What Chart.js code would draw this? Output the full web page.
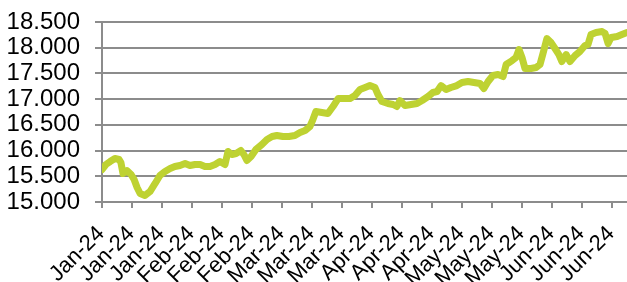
<!DOCTYPE html>
<html>
<head>
<meta charset="utf-8">
<script src="https://cdn.jsdelivr.net/npm/chart.js@4"></script>
<style>
  html, body { margin: 0; padding: 0; background: #fff; }
  #wrap { width: 627px; height: 282px; position: relative; overflow: hidden; }
</style>
</head>
<body>
<div id="wrap"><canvas id="c"></canvas></div>
<script>
// Days since 2 Jan 2024
const dayOffsets = [0,1.3,2.7,4.3,5.7,6.3,7,8.3,9.7,10.7,11.7,12.7,14.3,16,17.7,19.3,21,22.7,24.3,26,27.7,29.3,31,32.7,34.3,36,37.7,39.3,41,42,43.3,44.7,46.3,47.3,48.3,49.7,51.3,53.3,55,56.7,58.3,60.3,62.3,64.3,66,67.7,69.3,70.3,71.3,73.3,75.3,77,78.7,80.7,82.7,84.3,86,87.7,89.3,91,92,93.3,95.3,97,98.3,99.3,101,103,105,106.7,108.7,110.3,111.7,113,114.7,116.3,118.3,120,122,124,126,127.3,128.7,130.3,132,133.7,134.7,136.7,138,139,140,141,143,144.7,146,147,148.3,149.7,151,152.3,153.3,154.7,156,157.7,159.3,161,162,163,164.7,166.7,167.7,168.7,169.7,171.7,173.3,175];
const values = [15632,15729,15787,15846,15826,15768,15554,15612,15535,15437,15282,15165,15126,15204,15360,15515,15593,15651,15690,15710,15748,15710,15729,15729,15690,15690,15729,15787,15729,15982,15923,15943,16001,15923,15807,15885,16021,16118,16215,16273,16293,16273,16273,16293,16351,16390,16468,16604,16759,16740,16720,16856,17012,17012,17012,17070,17187,17226,17264,17226,17090,16954,16915,16896,16857,16973,16876,16896,16915,16973,17051,17129,17148,17264,17187,17226,17264,17323,17342,17323,17304,17206,17342,17459,17478,17440,17673,17750,17809,17964,17809,17595,17595,17615,17673,17887,18178,18100,17984,17867,17731,17867,17731,17848,17926,18042,18062,18256,18295,18314,18276,18081,18198,18217,18256,18295];
const tickDays = [0,10,20,30,40,50,60,70,80,90,100,110,120,130,140,150,160,170];
const tickLabels = ['Jan-24','Jan-24','Jan-24','Feb-24','Feb-24','Feb-24','Mar-24','Mar-24','Mar-24','Apr-24','Apr-24','Apr-24','May-24','May-24','May-24','Jun-24','Jun-24','Jun-24'];
const yTicks = [15000,15500,16000,16500,17000,17500,18000,18500];

const gridColor = '#8c8c8c';
const fontFamily = '"Liberation Sans", Arial, sans-serif';

new Chart(document.getElementById('c'), {
  type: 'line',
  data: {
    datasets: [{
      data: dayOffsets.map((d, i) => ({ x: d, y: values[i] })),
      borderColor: '#bed232',
      borderWidth: 7,
      pointRadius: 0,
      tension: 0,
      borderJoinStyle: 'round',
      borderCapStyle: 'round',
      fill: false
    }]
  },
  options: {
    responsive: true,
    maintainAspectRatio: false,
    animation: false,
    layout: { padding: { top: 22, right: 0, left: 0, bottom: 0 } },
    plugins: { legend: { display: false }, tooltip: { enabled: false } },
    scales: {
      x: {
        type: 'linear',
        min: 0,
        max: 175,
        afterBuildTicks: (scale) => { scale.ticks = tickDays.map(v => ({ value: v })); },
        afterFit: (scale) => { scale.height = 80; scale.paddingLeft = 0; scale.paddingRight = 0; },
        ticks: {
          autoSkip: false,
          maxRotation: 45,
          minRotation: 45,
          padding: 13,
          labelOffset: -1,
          color: '#000',
          font: { family: fontFamily, size: 22 },
          callback: (value, index) => tickLabels[index]
        },
        grid: { drawOnChartArea: false, drawTicks: true, tickLength: 6, color: gridColor, lineWidth: 2 },
        border: { display: true, color: gridColor, width: 2 }
      },
      y: {
        min: yTicks[0],
        max: yTicks[yTicks.length - 1],
        afterBuildTicks: (scale) => { scale.ticks = yTicks.map(v => ({ value: v })); },
        afterFit: (scale) => { scale.width = 102; scale.paddingTop = 0; scale.paddingBottom = 0; },
        ticks: {
          autoSkip: false,
          padding: 15,
          color: '#000',
          font: { family: fontFamily, size: 24 },
          callback: (v) => String(v).replace(/\B(?=(\d{3})+(?!\d))/g, '.')
        },
        grid: { color: gridColor, lineWidth: 2, tickLength: 7 },
        border: { display: true, color: gridColor, width: 2 }
      }
    }
  }
});
</script>
</body>
</html>
